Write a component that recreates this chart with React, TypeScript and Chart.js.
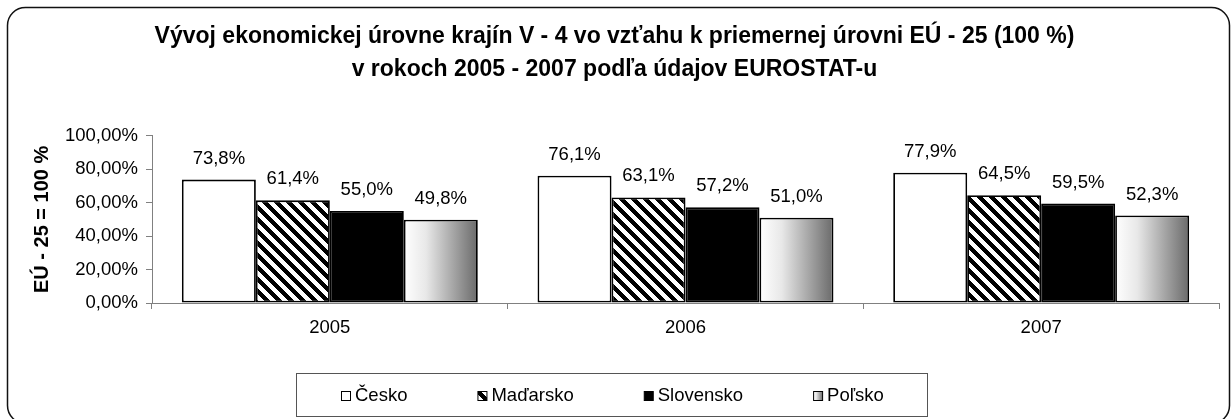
import React, { useEffect, useRef } from 'react';
import { Chart, registerables } from 'chart.js';

Chart.register(...registerables);

// ---------- data ----------
const YEARS = ['2005', '2006', '2007'];
const SERIES_NAMES = ['Česko', 'Maďarsko', 'Slovensko', 'Poľsko'];
const CESKO = [73.8, 76.1, 77.9];
const MADARSKO = [61.4, 63.1, 64.5];
const SLOVENSKO = [55.0, 57.2, 59.5];
const POLSKO = [49.8, 51.0, 52.3];
const Y_TICKS = [0, 20, 40, 60, 80, 100];
const TITLE_LINES = [
  'Vývoj ekonomickej úrovne krajín V - 4 vo vzťahu k priemernej úrovni EÚ - 25 (100 %)',
  'v rokoch 2005 - 2007 podľa údajov EUROSTAT-u',
];
const Y_TITLE = 'EÚ - 25 = 100 %';

// ---------- styles ----------
const REG = "'Liberation Sans', Arial, sans-serif";
const BOLD = "'Liberation Sans', Arial, sans-serif";
const TEXT_SIZE = 18.5;
const CAT_PCT = 0.832;
const AXIS_GRAY = '#808080';
const LEGEND_CX = 611;

const fmtPct = (v: number) => v.toFixed(1).replace('.', ',') + '%';
const fmtTick = (v: number) => v.toFixed(2).replace('.', ',') + '%';

function makeHatch(): CanvasPattern | string {
  const T = 12;
  const c = document.createElement('canvas');
  c.width = T;
  c.height = T;
  const cx = c.getContext('2d');
  if (!cx) return '#555';
  const img = cx.createImageData(T, T);
  for (let y = 0; y < T; y++) {
    for (let x = 0; x < T; x++) {
      const k = (((x - y) % T) + T) % T;
      const v = k < T / 2 ? 0 : 255;
      const o = (y * T + x) * 4;
      img.data[o] = v;
      img.data[o + 1] = v;
      img.data[o + 2] = v;
      img.data[o + 3] = 255;
    }
  }
  cx.putImageData(img, 0, 0);
  return cx.createPattern(c, 'repeat') || '#555';
}

function gradientBetween(ctx: CanvasRenderingContext2D, left: number, right: number): any {
  if (!Number.isFinite(left) || !Number.isFinite(right) || right <= left) return '#bbbbbb';
  const g = ctx.createLinearGradient(left, 0, right, 0);
  g.addColorStop(0, '#ffffff');
  g.addColorStop(0.3, '#e8e8e8');
  g.addColorStop(1, '#6a6a6a');
  return g;
}

const framePlugin = {
  id: 'frame',
  beforeDraw(chart: any) {
    const ctx = chart.ctx as CanvasRenderingContext2D;
    ctx.save();
    ctx.fillStyle = '#ffffff';
    ctx.fillRect(0, 0, chart.width, chart.height);
    ctx.beginPath();
    (ctx as any).roundRect(7.5, 7.5, 1222, 416, 18);
    ctx.lineWidth = 1.5;
    ctx.strokeStyle = '#111111';
    ctx.stroke();
    ctx.restore();
  },
};

const valueLabelPlugin = {
  id: 'valueLabels',
  afterDatasetsDraw(chart: any) {
    const ctx = chart.ctx as CanvasRenderingContext2D;
    ctx.save();
    ctx.font = `${TEXT_SIZE}px ${REG}`;
    ctx.fillStyle = '#000000';
    ctx.textAlign = 'center';
    ctx.textBaseline = 'alphabetic';
    chart.data.datasets.forEach((ds: any, di: number) => {
      const meta = chart.getDatasetMeta(di);
      meta.data.forEach((el: any, i: number) => {
        ctx.fillText(fmtPct(ds.data[i]), el.x, el.y - 16);
      });
    });
    ctx.restore();
  },
};

export default function App() {
  const ref = useRef<HTMLCanvasElement | null>(null);

  useEffect(() => {
    const canvas = ref.current;
    if (!canvas) return;
    const hatch = makeHatch();

    const polskoFill = (c: any) => {
      const chart = c.chart;
      const xs = chart.scales && chart.scales.x;
      if (c.type !== 'data' || !xs || !Number.isFinite(xs.width) || xs.width <= 0) return '#bbbbbb';
      const n = SERIES_NAMES.length;
      const catW = xs.width / YEARS.length;
      const bw = (catW * CAT_PCT) / n;
      const center = xs.getPixelForValue(c.dataIndex);
      const left = center - (n / 2) * bw + c.datasetIndex * bw;
      return gradientBetween(chart.ctx, left, left + bw);
    };

    const legendFills = [
      () => '#ffffff',
      () => hatch,
      () => '#000000',
      (ctx: CanvasRenderingContext2D, l: number, r: number) => gradientBetween(ctx, l, r),
    ];

    const legendPlugin = {
      id: 'boxLegend',
      afterDraw(chart: any) {
        const ctx = chart.ctx as CanvasRenderingContext2D;
        ctx.save();
        ctx.font = `${TEXT_SIZE}px ${REG}`;
        const labels: string[] = chart.data.datasets.map((d: any) => d.label);
        const sq = 9;
        const gapText = 5;
        const gapItem = 70;
        const pad = 44;
        const widths = labels.map((t) => sq + gapText + ctx.measureText(t).width);
        const inner = widths.reduce((a, b) => a + b, 0) + gapItem * (labels.length - 1);
        const boxW = Math.round(inner + 2 * pad);
        const left = Math.round(LEGEND_CX - boxW / 2) + 0.5;
        const top = 373.5;
        const h = 43;
        ctx.strokeStyle = '#555555';
        ctx.lineWidth = 1;
        ctx.strokeRect(left, top, boxW, h);
        const cy = top + h / 2;
        let x = Math.round(left + pad);
        labels.forEach((t, i) => {
          const sx = x + 0.5;
          const sy = Math.round(cy - sq / 2) + 0.5;
          ctx.fillStyle = legendFills[i](ctx, sx, sx + sq) as any;
          ctx.fillRect(sx, sy, sq, sq);
          ctx.strokeStyle = '#000000';
          ctx.lineWidth = 1;
          ctx.strokeRect(sx, sy, sq, sq);
          ctx.fillStyle = '#000000';
          ctx.textAlign = 'left';
          ctx.textBaseline = 'middle';
          ctx.fillText(t, x + sq + gapText, cy + 1);
          x += widths[i] + gapItem;
        });
        ctx.restore();
      },
    };

    const common = {
      borderColor: '#000000',
      borderWidth: 1.8,
      borderSkipped: false,
      barPercentage: 1,
      categoryPercentage: CAT_PCT,
    };

    const chart = new Chart(canvas, {
      type: 'bar',
      data: {
        labels: YEARS,
        datasets: [
          { ...common, label: SERIES_NAMES[0], data: CESKO, backgroundColor: '#ffffff' },
          { ...common, label: SERIES_NAMES[1], data: MADARSKO, backgroundColor: hatch as any },
          { ...common, label: SERIES_NAMES[2], data: SLOVENSKO, backgroundColor: '#000000' },
          { ...common, label: SERIES_NAMES[3], data: POLSKO, backgroundColor: polskoFill as any },
        ],
      },
      options: {
        responsive: false,
        animation: false,
        devicePixelRatio: 1,
        layout: { padding: { left: 10, right: 13, top: 0, bottom: 70 } },
        plugins: {
          legend: { display: false },
          tooltip: { enabled: false },
          title: {
            display: true,
            text: TITLE_LINES,
            color: '#000000',
            font: { family: BOLD, size: 23, weight: 'bold', lineHeight: 1.43 },
            padding: { top: 20, bottom: 50 },
          },
        },
        scales: {
          x: {
            grid: {
              display: true,
              drawOnChartArea: false,
              drawTicks: true,
              tickLength: 6,
              color: AXIS_GRAY,
              offset: true,
            },
            border: { display: true, color: AXIS_GRAY, width: 1 },
            ticks: {
              color: '#000000',
              font: { family: REG, size: TEXT_SIZE },
              padding: 8,
              maxRotation: 0,
            },
            afterFit: (s: any) => {
              s.height = 46;
            },
          },
          y: {
            min: 0,
            max: 100,
            afterBuildTicks: (s: any) => {
              s.ticks = Y_TICKS.map((v) => ({ value: v }));
            },
            grid: {
              display: true,
              drawOnChartArea: false,
              drawTicks: true,
              tickLength: 6,
              color: AXIS_GRAY,
            },
            border: { display: true, color: AXIS_GRAY, width: 1 },
            ticks: {
              color: '#000000',
              font: { family: REG, size: TEXT_SIZE },
              padding: 8,
              callback: (v: any) => fmtTick(Number(v)),
            },
            title: {
              display: true,
              text: Y_TITLE,
              color: '#000000',
              font: { family: BOLD, size: 20, weight: 'bold' },
              padding: { top: 20, bottom: 0 },
            },
            afterFit: (s: any) => {
              s.width = 142;
            },
          },
        },
      },
      plugins: [framePlugin, valueLabelPlugin, legendPlugin],
    } as any);

    return () => chart.destroy();
  }, []);

  return (
    <div style={{ position: 'absolute', left: 0, top: 0, width: 1232, height: 419, background: '#fff' }}>
      <canvas ref={ref} width={1232} height={419} style={{ display: 'block' }} />
    </div>
  );
}
